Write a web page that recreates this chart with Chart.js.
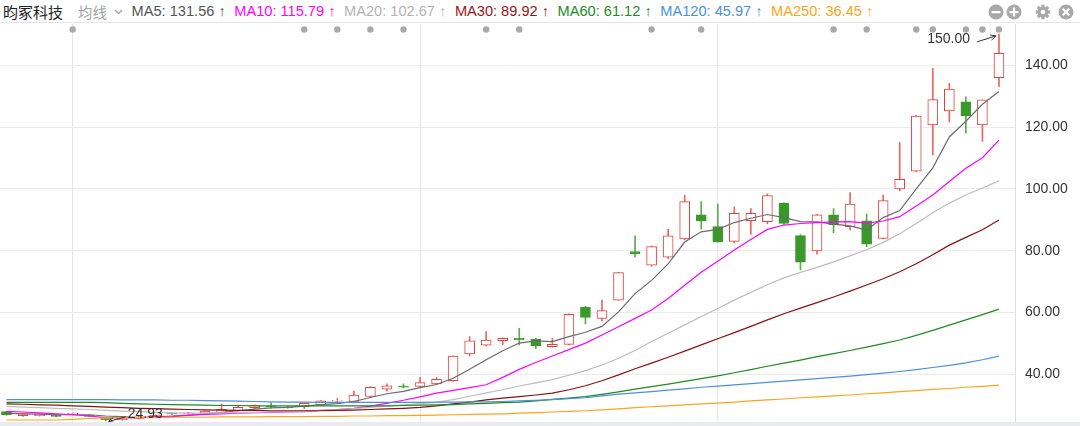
<!DOCTYPE html>
<html><head><meta charset="utf-8">
<script src="https://cdn.jsdelivr.net/npm/chart.js@4.4.1/dist/chart.umd.min.js"></script>
<style>
html,body{margin:0;padding:0;background:#fff;}
#wrap{position:relative;width:1080px;height:426px;overflow:hidden;font-family:"Liberation Sans",Arial,sans-serif;}
#hdr{position:absolute;left:0;top:0;width:1080px;height:22px;border-bottom:1px solid #e3e5e9;display:flex;align-items:center;font-size:14.6px;white-space:nowrap;z-index:2;background:#fff;}
#title{font-family:"Noto Sans CJK SC";font-size:15px;color:#222;margin-left:3px;}
#junxian{font-family:"Noto Sans CJK SC";color:#a3a3a3;margin-left:15px;font-size:14.5px;}
#chev{margin-left:7px;margin-top:1px;}
.ma{margin-left:8.6px;}
#icons{position:absolute;top:4px;left:988px;height:15px;}
#icons svg{position:absolute;top:0;}
#cw{position:absolute;left:0;top:0;width:1080px;height:426px;}
#c{display:block;}
#bottom{position:absolute;left:0;top:422px;width:1080px;height:4px;background:#e9ebef;z-index:1;}
</style></head>
<body>
<div id="wrap">
  <div id="cw"><canvas id="c" width="1080" height="426"></canvas></div>
  <div id="hdr">
    <span id="title">昀冢科技</span>
    <span id="junxian">均线</span>
    <svg id="chev" width="9" height="6"><path d="M1 1 L4.5 4.5 L8 1" stroke="#a8a8a8" stroke-width="1.5" fill="none"/></svg>
    <span id="maList"></span>
    <div id="icons">
      <svg style="left:0" width="16" height="16"><circle cx="8" cy="8" r="7.5" fill="#a9a9a9"/><rect x="3.5" y="7" width="9" height="2.2" fill="#fff"/></svg>
      <svg style="left:18px" width="16" height="16"><circle cx="8" cy="8" r="7.5" fill="#a9a9a9"/><rect x="3.5" y="7" width="9" height="2.2" fill="#fff"/><rect x="6.9" y="3.5" width="2.2" height="9" fill="#fff"/></svg>
      <svg style="left:47px" width="16" height="16"><g transform="translate(8,8)" fill="#a9a9a9"><circle r="5.2"/><rect x="-1.6" y="-7.3" width="3.2" height="14.6"/><rect x="-1.6" y="-7.3" width="3.2" height="14.6" transform="rotate(45)"/><rect x="-1.6" y="-7.3" width="3.2" height="14.6" transform="rotate(90)"/><rect x="-1.6" y="-7.3" width="3.2" height="14.6" transform="rotate(135)"/><circle r="2.3" fill="#fff"/></g></svg>
      <svg style="left:70px" width="16" height="16"><circle cx="8" cy="8" r="7.5" fill="#a9a9a9"/><path d="M4.8 4.8 L11.2 11.2 M11.2 4.8 L4.8 11.2" stroke="#fff" stroke-width="2.1"/></svg>
    </div>
  </div>
  <div id="bottom"></div>
</div>
<script>
// ---- data ----
const days = Array.from({length:61},(_,i)=>i); // trading-day index
const opens  = [27.9,26.6,26.6,26.8,27.0,26.7,25.8,25.3,25.7,26.2, 27.4,27.3,27.4,27.6,28.2,29.2,29.6,29.4,29.5,30.1, 31.3,31.2,32.8,35.2,36.2,36.1,36.9,37.9,46.6,49.4, 50.9,51.6,51.3,48.9,49.7,61.7,58.1,64.0,79.7,75.3, 77.9,83.8,91.6,87.8,83.0,89.7,89.4,95.3,84.9,79.9, 91.6,87.8,89.7,84.0,100.0,105.7,120.7,125.2,128.2,120.7, 136.0];
const closes = [26.9,27.3,27.1,26.4,27.4,26.4,25.3,25.8,26.2,26.8, 27.2,27.5,28.1,28.7,29.3,30.0,29.4,29.2,30.6,31.4, 31.5,33.3,35.8,36.3,35.8,37.3,38.4,45.9,50.8,51.1, 51.6,51.2,49.2,49.7,59.4,58.4,60.6,72.9,79.0,81.3, 84.8,95.9,89.6,82.9,92.1,92.1,97.8,88.8,76.3,91.6, 88.4,95.1,82.1,96.2,103.1,123.6,128.9,132.3,123.6,128.8, 143.9];
const highs  = [28.0,27.4,27.2,26.9,27.5,26.9,26.0,25.9,26.4,26.9, 27.5,27.7,28.2,30.4,29.6,30.1,30.8,29.6,30.8,31.5, 32.2,34.6,36.0,36.9,36.9,39.0,38.9,46.0,52.2,53.8, 51.8,54.9,51.6,51.6,59.6,62.0,64.0,73.0,84.8,81.5, 86.9,98.0,95.9,95.1,94.2,93.6,98.4,95.6,85.2,91.8, 93.6,98.8,91.9,98.0,115.0,123.8,139.0,134.2,129.8,128.8, 150.0];
const lows   = [26.7,26.4,26.5,26.2,26.9,26.3,24.93,25.1,25.6,26.1, 27.0,27.2,27.3,27.5,28.1,28.9,29.0,29.0,28.9,30.0, 30.8,31.0,32.6,34.5,35.6,35.9,36.6,37.8,45.9,49.2, 49.6,49.5,48.3,48.8,49.5,56.3,57.3,63.9,77.9,75.0, 77.4,83.5,87.0,82.7,82.5,85.3,88.7,88.5,73.8,78.9, 85.8,86.7,81.3,83.8,99.4,105.5,111.0,121.6,118.0,115.4, 133.1];

const ma5   = [27.4,27.2,27.1,26.9,26.9,26.9,26.5,26.3,26.0,26.1, 26.3,26.7,27.2,27.7,28.2,28.7,29.1,29.3,29.7,30.2, 30.5,31.2,32.5,33.7,34.5,35.7,36.7,38.7,41.6,44.7, 47.6,50.1,50.8,50.6,52.2,53.6,55.5,60.2,66.1,70.4, 75.7,82.8,86.1,86.9,89.1,90.5,91.7,90.7,89.4,89.3, 88.6,88.0,86.7,90.7,93.0,100.0,106.8,116.8,121.9,127.4, 131.5];
const ma10  = [28.0,27.8,27.5,27.2,26.9,26.5,26.0,25.9,26.0,26.2, 26.5,26.8,27.0,27.2,27.4,27.6,27.7,27.8,27.9,28.3, 28.6,29.0,29.7,30.6,31.6,32.7,33.9,34.8,35.7,36.6, 39.0,41.6,43.8,45.9,48.0,50.1,52.7,55.4,58.1,60.8, 64.5,68.8,73.0,76.6,80.2,83.6,86.9,88.3,88.8,89.1, 89.3,89.4,88.9,89.6,91.0,94.5,98.0,102.4,106.7,110.1, 115.8];
const ma20  = [29.6,29.4,29.2,29.0,28.8,28.6,28.3,28.1,27.9,27.7, 27.5,27.4,27.4,27.5,27.6,27.7,27.8,27.9,28.0,28.3, 28.6,28.9,29.3,29.7,30.1,30.5,30.9,31.8,32.9,34.0, 35.0,36.2,37.2,38.3,39.7,41.2,43.0,45.2,47.7,50.6, 53.3,56.0,58.7,61.3,64.0,66.5,69.0,71.2,73.0,74.6, 76.4,78.3,80.3,82.7,85.5,88.8,92.3,95.4,98.0,100.3, 102.6];
const ma30  = [30.4,30.3,30.1,30.0,29.8,29.6,29.4,29.2,29.0,28.9, 28.7,28.6,28.5,28.4,28.3,28.3,28.2,28.2,28.2,28.2, 28.3,28.4,28.6,28.8,29.0,29.3,29.8,30.4,31.0,31.7, 32.3,32.8,33.3,33.9,35.0,36.3,37.9,39.8,41.8,43.6, 45.5,47.5,49.5,51.5,53.5,55.5,57.6,59.6,61.4,63.2, 65.0,66.9,68.9,70.9,73.2,75.8,78.7,81.8,84.3,86.8, 89.9];
const ma60  = [30.9,30.9,30.9,30.9,30.9,30.9,30.8,30.6,30.4,30.3, 30.2,30.1,30.0,29.9,29.9,29.8,29.8,29.8,29.8,29.8, 29.8,29.8,29.8,29.8,29.9,30.0,30.1,30.2,30.4,30.6, 30.8,31.0,31.4,31.9,32.3,32.8,33.5,34.3,35.2,36.0, 36.8,37.7,38.6,39.5,40.5,41.5,42.6,43.6,44.6,45.7, 46.7,47.7,48.8,49.9,51.1,52.6,54.2,55.9,57.6,59.3, 61.1];
const ma120 = [31.8,31.8,31.8,31.8,31.8,31.8,31.8,31.7,31.7,31.7, 31.6,31.6,31.5,31.4,31.3,31.2,31.1,31.0,31.0,30.9, 30.9,30.9,30.9,30.9,30.9,30.9,31.0,31.0,31.1,31.1, 31.2,31.4,31.6,31.8,32.1,32.4,33.0,33.6,34.0,34.4, 34.9,35.3,35.8,36.2,36.6,37.0,37.4,37.8,38.2,38.6, 39.0,39.4,39.9,40.4,40.9,41.5,42.2,42.9,43.7,44.7, 45.9];
const ma250 = [25.2,25.2,25.2,25.2,25.4,25.7,25.9,26.0,26.0,26.0, 26.1,26.1,26.1,26.2,26.2,26.2,26.3,26.3,26.3,26.4, 26.4,26.5,26.5,26.6,26.6,26.7,26.8,26.9,27.0,27.1, 27.2,27.4,27.6,27.8,28.0,28.2,28.5,28.8,29.2,29.5, 29.8,30.1,30.4,30.7,31.0,31.4,31.7,32.0,32.4,32.7, 33.0,33.3,33.7,34.0,34.4,34.7,35.1,35.4,35.8,36.1, 36.5];

const maNames  = ["MA5","MA10","MA20","MA30","MA60","MA120","MA250"];
const maLast   = [131.56,115.79,102.67,89.92,61.12,45.97,36.45];
const maSeries = [ma5,ma10,ma20,ma30,ma60,ma120,ma250];
const eventDays = [4,18,20,22,24,29,31,39,42,50,52,55,56,58,59,60];
const gridDays  = [4,25,43];
const yTicks    = [40,60,80,100,120,140];

// ---- styles ----
const maColors = ["#6b6b6b","#ff00ff","#bdbdbd","#8b1010","#1f8a1f","#4a90e2","#ffa31a"];
const maText   = ["#555555","#ff00ff","#b3b3b3","#9a1414","#1f8a1f","#4a90e2","#ffa31a"];
const UP="#e5403a", UPW="#ec6560", DN="#3a992b", DNW="#5daa4f";

const ml=document.getElementById('maList');
ml.style.display='flex';
maNames.forEach((n,k)=>{
  const s=document.createElement('span'); s.className='ma'; s.style.color=maText[k];
  s.textContent=n+': '+maLast[k].toFixed(2)+' ↑'; ml.appendChild(s);
});

const isUp = days.map(i=>closes[i]>=opens[i]);
const bodyData = days.map(i=>({x:i,y:[opens[i],closes[i]]}));
const wickData = days.map(i=>({x:i,y:[lows[i],highs[i]]}));

const datasets=[
  {type:'bar',label:'wick',data:wickData,grouped:false,barThickness:1,order:3,
   backgroundColor:days.map(i=>isUp[i]?UPW:DNW),borderWidth:0},
  {type:'bar',label:'body',data:bodyData,grouped:false,barThickness:10,order:2,
   backgroundColor:days.map(i=>isUp[i]?'#ffffff':DN),borderColor:days.map(i=>isUp[i]?UP:DN),
   borderWidth:1,borderSkipped:false}
];
maSeries.forEach((arr,k)=>{
  datasets.push({type:'line',label:maNames[k],data:days.map(i=>({x:i,y:arr[i]})),
    borderColor:maColors[k],borderWidth:1.2,pointRadius:0,order:1-k*0.01,tension:0});
});

const annot={
  id:'annot',
  afterDraw(chart){
    const ctx=chart.ctx, xs=chart.scales.x, ys=chart.scales.y, ca=chart.chartArea;
    ctx.save();
    ctx.fillStyle='#a9a9a9';
    eventDays.forEach(d=>{ctx.beginPath();ctx.arc(xs.getPixelForValue(d),ca.top+5.5,3.2,0,Math.PI*2);ctx.fill();});
    ctx.font='14px "Liberation Sans", Arial, sans-serif';
    ctx.fillStyle='#333';ctx.strokeStyle='#333';ctx.lineWidth=1;
    let hi=0; days.forEach(i=>{if(highs[i]>highs[hi])hi=i;});
    let px=xs.getPixelForValue(hi), py=ys.getPixelForValue(highs[hi]);
    ctx.textAlign='right';ctx.textBaseline='middle';
    ctx.fillText(highs[hi].toFixed(2),px-29,py+5);
    arrow(ctx,px-22,py+7.5,px-3,py+1.5);
    let lo=0; days.forEach(i=>{if(lows[i]<lows[lo])lo=i;});
    px=xs.getPixelForValue(lo); py=ys.getPixelForValue(lows[lo]);
    ctx.textAlign='left';
    ctx.fillText(lows[lo].toFixed(2),px+22,py-6.5);
    arrow(ctx,px+20,py-4,px+3,py+0.5);
    ctx.restore();
  }
};
function arrow(ctx,x1,y1,x2,y2){
  ctx.beginPath();ctx.moveTo(x1,y1);ctx.lineTo(x2,y2);ctx.stroke();
  const a=Math.atan2(y2-y1,x2-x1),L=6;
  ctx.beginPath();
  ctx.moveTo(x2-L*Math.cos(a-0.45),y2-L*Math.sin(a-0.45));ctx.lineTo(x2,y2);
  ctx.lineTo(x2-L*Math.cos(a+0.45),y2-L*Math.sin(a+0.45));ctx.stroke();
}

new Chart(document.getElementById('c'),{
  type:'bar',
  data:{datasets},
  options:{
    responsive:false,animation:false,devicePixelRatio:1,
    layout:{padding:{top:24,bottom:4,left:0,right:0}},
    plugins:{legend:{display:false},tooltip:{enabled:false}},
    scales:{
      x:{type:'linear',min:-0.393,max:60.97,offset:false,
        ticks:{display:false,stepSize:1,autoSkip:false,maxTicksLimit:200},
        afterFit:s=>{s.height=0;},
        grid:{offset:false,drawTicks:false,tickLength:0,color:c=>gridDays.includes(c.tick&&c.tick.value)?'#e3e6eb':'rgba(0,0,0,0)'},
        border:{display:false}},
      y:{position:'right',min:24.56,max:153.36,
        afterBuildTicks:s=>{s.ticks=yTicks.map(v=>({value:v}));},
        afterFit:s=>{s.width=65;s.paddingTop=0;s.paddingBottom=0;},
        ticks:{padding:10,color:'#333',font:{size:14,family:'"Liberation Sans", Arial, sans-serif'},callback:v=>Number(v).toFixed(2)},
        grid:{color:'#ebebeb',drawTicks:false},border:{display:true,color:'#dcdfe4'}}
    }
  },
  plugins:[annot]
});
</script>
</body></html>
